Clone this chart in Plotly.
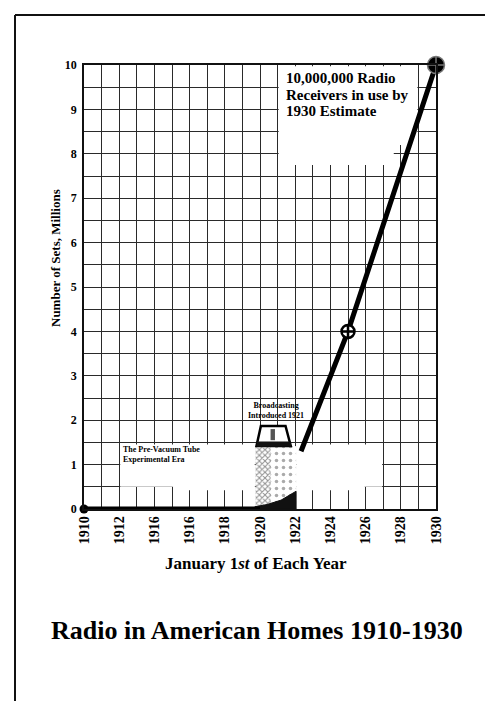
import plotly.graph_objects as go

# ---- data ----
years_axis = list(range(1910, 1931))
year_labels = ["1910", "1912", "1916", "1916", "1918", "1920", "1922", "1924", "1926", "1928", "1930"]
early_years = [1910, 1912, 1914, 1916, 1918, 1920]
early_sets = [0, 0, 0, 0, 0, 0]
growth_years = [1922.33, 1925, 1930]
growth_sets = [1.3, 4, 10]
marker_years = [1925, 1930]
marker_sets = [4, 10]
y_ticks = [i / 2 for i in range(0, 21)]
note_lines = ["10,000,000 Radio", "Receivers in use by", "1930 Estimate"]

label_it = iter(year_labels)
x_ticktext = [next(label_it) if (y - 1910) % 2 == 0 else "" for y in years_axis]
y_ticktext = [str(int(v)) if v == int(v) else "" for v in y_ticks]

SERIF = "Liberation Serif"

fig = go.Figure()

# radio picture (decorative) - dotted cabinet
fig.add_trace(go.Scatter(
    x=[1920.55, 1922.05, 1922.05, 1920.55, 1920.55],
    y=[0, 0, 1.42, 1.42, 0],
    fill="toself", mode="lines", line=dict(color="rgba(0,0,0,0)", width=0),
    fillcolor="white",
    fillpattern=dict(shape=".", fgcolor="#555", bgcolor="white", size=7, solidity=0.2),
    hoverinfo="skip", showlegend=False))
# dark mottled left part
fig.add_trace(go.Scatter(
    x=[1919.75, 1920.6, 1920.6, 1919.75, 1919.75],
    y=[0, 0, 1.42, 1.42, 0],
    fill="toself", mode="lines", line=dict(color="rgba(0,0,0,0)", width=0),
    fillcolor="white",
    fillpattern=dict(shape="x", fgcolor="#222", bgcolor="white", size=4, solidity=0.45),
    hoverinfo="skip", showlegend=False))
# dark blob at bottom
fig.add_trace(go.Scatter(
    x=[1919.7, 1920.4, 1921.2, 1922.05, 1922.05, 1919.7],
    y=[0.05, 0.1, 0.2, 0.4, 0, 0],
    fill="toself", mode="lines", line=dict(color="#111", width=1),
    fillcolor="#111", hoverinfo="skip", showlegend=False))

# early flat series
fig.add_trace(go.Scatter(
    x=early_years, y=early_sets, mode="lines", cliponaxis=False,
    line=dict(color="black", width=5), showlegend=False, hoverinfo="skip"))
fig.add_trace(go.Scatter(
    x=[early_years[0]], y=[early_sets[0]], mode="markers", cliponaxis=False,
    marker=dict(color="black", size=9), showlegend=False, hoverinfo="skip"))
# growth series
fig.add_trace(go.Scatter(
    x=growth_years, y=growth_sets, mode="lines", cliponaxis=False,
    line=dict(color="black", width=5), showlegend=False, hoverinfo="skip"))
fig.add_trace(go.Scatter(
    x=marker_years[:1], y=marker_sets[:1], mode="markers", cliponaxis=False,
    marker=dict(symbol="circle-cross", color="white", size=13,
                line=dict(color="black", width=2.5)),
    showlegend=False, hoverinfo="skip"))
fig.add_trace(go.Scatter(
    x=marker_years[1:], y=marker_sets[1:], mode="markers", cliponaxis=False,
    marker=dict(symbol="circle-cross", color="black", size=17,
                line=dict(color="#777", width=1.5)),
    showlegend=False, hoverinfo="skip"))

shapes = []
white = dict(type="rect", xref="x", yref="y", fillcolor="white",
             line=dict(width=0), layer="between")
# blank patches of the scanned grid (overlapping so no seams show)
for x0, x1, y0, y1 in [
    (1921.06, 1928.94, 8.2, 9.97),
    (1921.06, 1927.6, 7.75, 8.35),
    (1912.06, 1919.7, 0.5, 1.45),
    (1915.06, 1919.7, 0.42, 0.6),
    (1922.06, 1926.94, 0.5, 1.45),
    (1922.06, 1925.94, 0.42, 0.6),
]:
    shapes.append(dict(white, x0=x0, x1=x1, y0=y0, y1=y1))
# radio set on top
shapes.append(dict(type="path", xref="x", yref="y",
                   path="M 1919.8 1.42 L 1920.05 1.87 L 1921.45 1.87 L 1921.75 1.42 Z",
                   fillcolor="white", line=dict(color="black", width=2.5), layer="above"))
shapes.append(dict(type="rect", xref="x", yref="y", x0=1919.8, x1=1921.75, y0=1.4, y1=1.52,
                   fillcolor="#111", line=dict(width=0), layer="above"))
shapes.append(dict(type="rect", xref="x", yref="y", x0=1920.6, x1=1920.85, y0=1.55, y1=1.8,
                   fillcolor="#555", line=dict(width=0), layer="above"))
# page frame
px = lambda p: (p - 76) / 352
py = lambda p: (501 - p) / 444
frame = dict(type="line", xref="paper", yref="paper", line=dict(color="#111", width=2))
shapes.append(dict(frame, x0=px(7), x1=px(7), y0=py(7), y1=py(701)))
shapes.append(dict(frame, x0=px(7), x1=px(491), y0=py(7), y1=py(7)))
shapes.append(dict(frame, x0=px(490), x1=px(490), y0=py(7), y1=py(600),
                   line=dict(color="#333", width=1)))

annotations = []
for i, line in enumerate(note_lines):
    annotations.append(dict(
        text="<b>" + line + "</b>", x=px(276), y=py(70 + 16.5 * i), xref="paper", yref="paper",
        xanchor="left", yanchor="middle", showarrow=False,
        font=dict(family=SERIF, size=15, color="black")))
annotations += [
    dict(text="<b>Broadcasting<br>Introduced 1921</b>",
         x=px(268), y=py(402), xref="paper", yref="paper", xanchor="center", yanchor="middle",
         showarrow=False, font=dict(family=SERIF, size=8, color="black")),
    dict(text="<b>The Pre-Vacuum Tube<br>Experimental Era</b>",
         x=px(113), y=py(446), xref="paper", yref="paper", xanchor="left", yanchor="middle",
         align="left", showarrow=False, font=dict(family=SERIF, size=8, color="black")),
    dict(text="<b>Number of Sets, Millions</b>", textangle=-90,
         x=px(47), y=py(250), xref="paper", yref="paper", xanchor="center", yanchor="middle",
         showarrow=False, font=dict(family=SERIF, size=13, color="black")),
    dict(text="<b>January 1<i>st</i> of Each Year</b>",
         x=px(248), y=py(555), xref="paper", yref="paper", xanchor="center", yanchor="middle",
         showarrow=False, font=dict(family=SERIF, size=17, color="black")),
    dict(text="<b>Radio in American Homes 1910-1930</b>",
         x=px(249), y=py(622), xref="paper", yref="paper", xanchor="center", yanchor="middle",
         showarrow=False, font=dict(family=SERIF, size=26, color="black")),
]

fig.update_layout(
    width=493, height=701,
    margin=dict(l=76, r=65, t=57, b=200),
    paper_bgcolor="white", plot_bgcolor="white",
    shapes=shapes, annotations=annotations, showlegend=False,
    xaxis=dict(range=[1910, 1930], tickmode="array", tickvals=years_axis, ticktext=x_ticktext,
               tickangle=-90, showgrid=True, gridcolor="#2a2a2a", gridwidth=1.2,
               showline=True, linecolor="#111", linewidth=1.5, mirror=True,
               ticks="", zeroline=False,
               tickfont=dict(family=SERIF, size=14, color="black", weight="bold")),
    yaxis=dict(range=[0, 10], tickmode="array", tickvals=y_ticks, ticktext=y_ticktext,
               showgrid=True, gridcolor="#2a2a2a", gridwidth=1.2,
               showline=True, linecolor="#111", linewidth=1.5, mirror=True,
               ticks="", zeroline=False, ticklabelstandoff=3,
               tickfont=dict(family=SERIF, size=12, color="black", weight="bold")),
)

fig.write_html("out.html")
